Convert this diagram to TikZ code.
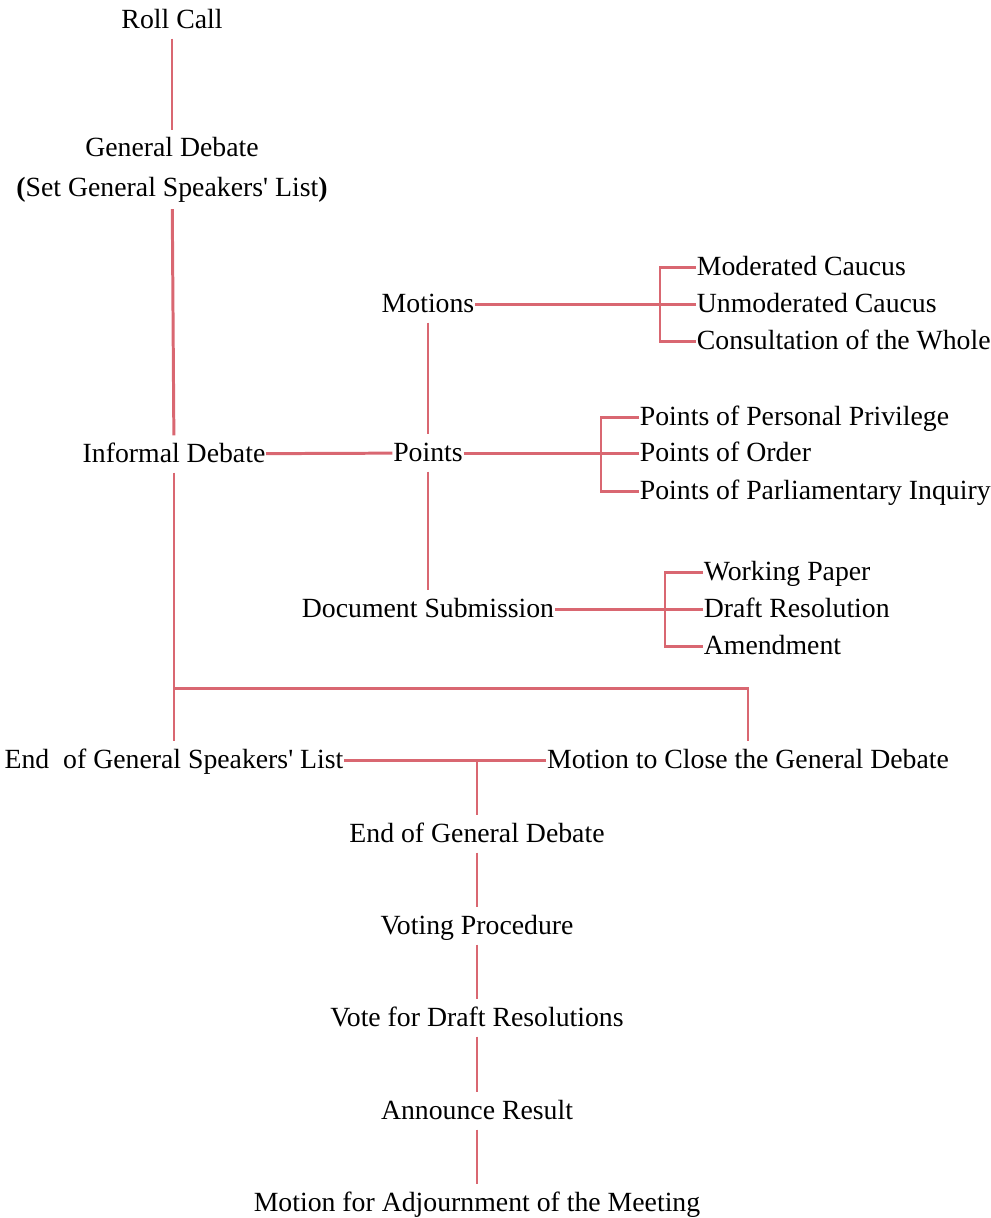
\documentclass[tikz,border=0pt]{standalone}
\usepackage{fontspec}
\setmainfont{Liberation Serif}
\usepackage{xcolor}
\definecolor{linkred}{RGB}{217,103,113}

\begin{document}
\begin{tikzpicture}[x=0.02cm, y=-0.02cm,
  every node/.style={font=\fontsize{15.8}{22.7}\selectfont, inner xsep=0.5pt, inner ysep=4pt, outer sep=0pt},
  item/.style={text height=11.4pt, text depth=1.9pt},
  link/.style={draw=linkred, line width=1.7pt}]
  \useasboundingbox (0,0) rectangle (991,1218);

  % Main column
  \node[item] (rc) at (172,20) {Roll Call};
  \node[align=center, anchor=north] (gd) at (172,130)
    {General Debate\\\textbf{(}Set General Speakers\textquotesingle\ List\textbf{)}};
  \node[item] (id) at (174,454) {Informal Debate};

  % Informal debate branches
  \node[item] (mot) at (428,304) {Motions};
  \node[item] (pt) at (428,453) {Points};
  \node[item] (ds) at (428,609) {Document Submission};

  % Motions
  \node[item, anchor=west] (mc) at (696,267) {Moderated Caucus};
  \node[item, anchor=west] (uc) at (696,304) {Unmoderated Caucus};
  \node[item, anchor=west] (cw) at (696,341) {Consultation of the Whole};
  \coordinate (mj) at (660,304);

  % Points
  \node[item, anchor=west] (pp) at (639,417) {Points of Personal Privilege};
  \node[item, anchor=west] (po) at (639,453) {Points of Order};
  \node[item, anchor=west] (pq) at (639,491) {Points of Parliamentary Inquiry};
  \coordinate (pj) at (601,453);

  % Documents
  \node[item, anchor=west] (wp) at (703,572) {Working Paper};
  \node[item, anchor=west] (dr) at (703,609) {Draft Resolution};
  \node[item, anchor=west] (am) at (703,646) {Amendment};
  \coordinate (dj) at (665,609);

  % Closing of debate
  \node[item] (esl) at (174,760) {End\ \ of General Speakers\textquotesingle\ List};
  \node[item] (mcd) at (748,760) {Motion to Close the General Debate};
  \coordinate (tj) at (174,688);
  \coordinate (bj) at (477,760);

  % Voting
  \node[item] (egd) at (477,834) {End of General Debate};
  \node[item] (vp) at (477,926) {Voting Procedure};
  \node[item] (vd) at (477,1018) {Vote for Draft Resolutions};
  \node[item] (ar) at (477,1111) {Announce Result};
  \node[item] (ma) at (477,1203) {Motion for Adjournment of the Meeting};

  % Connectors
  \draw[link] (rc) -- (gd);
  \draw[link] (gd) -- (id);
  \draw[link] (id) -- (pt);
  \draw[link] (mot) -- (pt);
  \draw[link] (pt) -- (ds);

  \draw[link] (mot) -- (mj);
  \draw[link] (mc) -| (mj) |- (cw);
  \draw[link] (uc) -- (mj);

  \draw[link] (pt) -- (pj);
  \draw[link] (pp) -| (pj) |- (pq);
  \draw[link] (po) -- (pj);

  \draw[link] (ds) -- (dj);
  \draw[link] (wp) -| (dj) |- (am);
  \draw[link] (dr) -- (dj);

  \draw[link] (id) -- (esl);
  \draw[link] (tj) -| (mcd);
  \draw[link] (esl) -- (mcd);
  \draw[link] (bj) -- (egd);

  \foreach \a/\b in {egd/vp, vp/vd, vd/ar, ar/ma}
    \draw[link] (\a) -- (\b);
\end{tikzpicture}
\end{document}
